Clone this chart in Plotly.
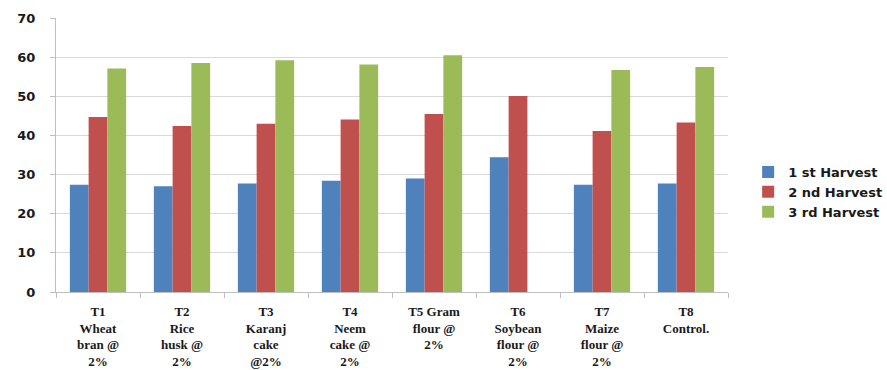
import plotly.graph_objects as go

# Treatments (category labels, line-broken as on the axis)
treatments = [
    "T1<br>Wheat<br>bran @<br>2%",
    "T2<br>Rice<br>husk @<br>2%",
    "T3<br>Karanj<br>cake<br>@2%",
    "T4<br>Neem<br>cake @<br>2%",
    "T5 Gram<br>flour @<br>2%",
    "T6<br>Soybean<br>flour @<br>2%",
    "T7<br>Maize<br>flour @<br>2%",
    "T8<br>Control.",
]

harvest_1 = [27.4, 27.0, 27.7, 28.4, 29.0, 34.4, 27.4, 27.7]
harvest_2 = [44.7, 42.4, 43.0, 44.1, 45.5, 50.1, 41.1, 43.3]
harvest_3 = [57.1, 58.5, 59.2, 58.1, 60.5, None, 56.7, 57.5]

series_names = ["1 st Harvest", "2 nd Harvest", "3 rd Harvest"]
series_colors = ["#4F81BD", "#C0504D", "#9BBB59"]

y_ticks = [0, 10, 20, 30, 40, 50, 60, 70]

fig = go.Figure()
for name, vals, col in zip(series_names, [harvest_1, harvest_2, harvest_3], series_colors):
    fig.add_trace(go.Bar(x=treatments, y=vals, name=name, marker_color=col,
                         marker_line_width=0))

fig.update_layout(
    width=887, height=370,
    margin=dict(l=56, r=159, t=18, b=78, autoexpand=False),
    paper_bgcolor="white", plot_bgcolor="white",
    barmode="group", bargap=0.33, bargroupgap=0,
    showlegend=True,
    legend=dict(x=1.03, y=0.365, xanchor="left", yanchor="middle",
                font=dict(family="DejaVu Sans", size=13, color="#1a1a1a", weight="bold"),
                itemwidth=30, tracegroupgap=0, bgcolor="rgba(0,0,0,0)"),
    font=dict(family="DejaVu Sans", color="#1a1a1a"),
)

fig.update_xaxes(
    type="category", automargin=False,
    showline=True, linecolor="#bfbfbf", linewidth=1,
    ticks="outside", ticklen=5, tickcolor="#bfbfbf", tickson="boundaries",
    tickangle=0,
    tickfont=dict(family="Liberation Serif", size=13, color="#1a1a1a", weight="bold"),
    ticklabelstandoff=7,
    showgrid=False,
)

fig.update_yaxes(
    range=[0, 70], tickvals=y_ticks, automargin=False,
    showline=True, linecolor="#bfbfbf", linewidth=1,
    ticks="outside", ticklen=5, tickcolor="#bfbfbf",
    showgrid=True, gridcolor="#d9d9d9", gridwidth=1,
    zeroline=False,
    tickfont=dict(family="DejaVu Sans", size=13, color="#1a1a1a", weight="bold"),
    ticklabelstandoff=12,
)

fig.write_html("out.html")
